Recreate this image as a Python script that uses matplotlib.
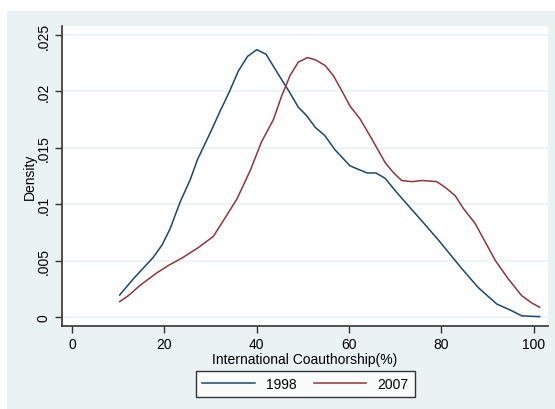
import matplotlib.pyplot as plt
from matplotlib.patches import Rectangle

plt.rcParams['font.family'] = ['Liberation Sans', 'DejaVu Sans']

# kernel density
x_1998 = [10.3, 13.3, 17.6, 19.5, 21.2, 23.4, 25.6, 27.2, 30, 32, 34.1, 36, 38, 40,
          42, 45, 47, 49, 50.8, 52.7, 54.7, 57, 60.2, 63.9, 65.8, 67.8, 70, 73.2,
          75.8, 79.4, 82, 84.4, 88, 92, 95, 97.4, 101.3]
y_1998 = [0.00195, 0.0034, 0.0053, 0.0064, 0.0078, 0.0102, 0.0122, 0.0140, 0.0164,
          0.0182, 0.0200, 0.0218, 0.0231, 0.0237,
          0.0233, 0.0213, 0.0200, 0.0186, 0.01785, 0.0168, 0.0161, 0.0148, 0.0134,
          0.01277, 0.01277, 0.0123, 0.0112, 0.0097,
          0.0085, 0.0068, 0.0055, 0.0043, 0.0026, 0.00115, 0.0006, 0.0001, 0.00003]

x_2007 = [10.3, 12.2, 14.7, 18.3, 21, 24.1, 27.5, 30.6, 33, 35.7, 38.6, 41,
          43.6, 45.4, 47.2, 49, 51, 52.7, 54.8, 56.6, 58.5, 60.2, 62.4,
          64.9, 67.8, 69.6, 71.4, 73.6, 75.8, 79, 80.8, 83, 84.8, 87.3, 91.7,
          94.5, 97.4, 99.6, 101.3]
y_2007 = [0.00136, 0.0019, 0.0028, 0.0039, 0.0046, 0.0053, 0.0062, 0.00715, 0.0087,
          0.01046, 0.0130, 0.0155,
          0.0175, 0.0196, 0.0214, 0.0226, 0.0230, 0.0228, 0.0223, 0.0214, 0.0200,
          0.0187, 0.01755,
          0.0158, 0.0137, 0.0128, 0.0121, 0.0120, 0.0121, 0.0120, 0.0115, 0.01075,
          0.0096, 0.0083, 0.0050,
          0.00337, 0.00189, 0.00124, 0.00086]

x_ticks = [0, 20, 40, 60, 80, 100]
y_ticks = [0, 0.005, 0.01, 0.015, 0.02, 0.025]
y_tick_labels = ['0', '.005', '.01', '.015', '.02', '.025']

bg = '#eaf2f3'
W, H = 555, 410

fig = plt.figure(figsize=(W / 100, H / 100), dpi=100, facecolor='white')
# stata-like outer graph region
fig.patches.append(Rectangle((7 / W, 0), 1 - 7 / W, (H - 12) / H,
                             transform=fig.transFigure, facecolor=bg,
                             edgecolor='none', zorder=-10))

ax = fig.add_axes([62 / W, (H - 327) / H, (548 - 62) / W, (327 - 27) / H])
ax.set_facecolor('white')
ax.plot(x_1998, y_1998, color='#1a476f', lw=1.1, label='1998')
ax.plot(x_2007, y_2007, color='#90353b', lw=1.1, label='2007')

ax.set_xlim(-2.2, 103.1)
ax.set_ylim(-0.0008, 0.0258)
ax.set_xticks(x_ticks)
ax.set_yticks(y_ticks)
ax.set_yticklabels(y_tick_labels, rotation=90, va='center')
ax.tick_params(labelsize=10, length=5, width=1, color='#333333', pad=3)
ax.grid(axis='y', color=bg, lw=1.2)
ax.set_axisbelow(True)

for s in ['top', 'right']:
    ax.spines[s].set_visible(False)
for s in ['left', 'bottom']:
    ax.spines[s].set_color('#333333')
    ax.spines[s].set_linewidth(1.2)

ax.set_xlabel('International Coauthorship(%)', fontsize=10, labelpad=1)
ax.set_ylabel('Density', fontsize=10, labelpad=0)

leg = fig.legend(loc='center', bbox_to_anchor=(305.5 / W, 1 - 385 / H), ncol=2,
                 fontsize=10, handlelength=3.8, columnspacing=1.2,
                 frameon=True, fancybox=False, borderpad=0.45)
leg.get_frame().set_edgecolor('black')
leg.get_frame().set_linewidth(1)
leg.get_frame().set_facecolor('white')

fig.savefig('out.png', dpi=100, facecolor=fig.get_facecolor())
